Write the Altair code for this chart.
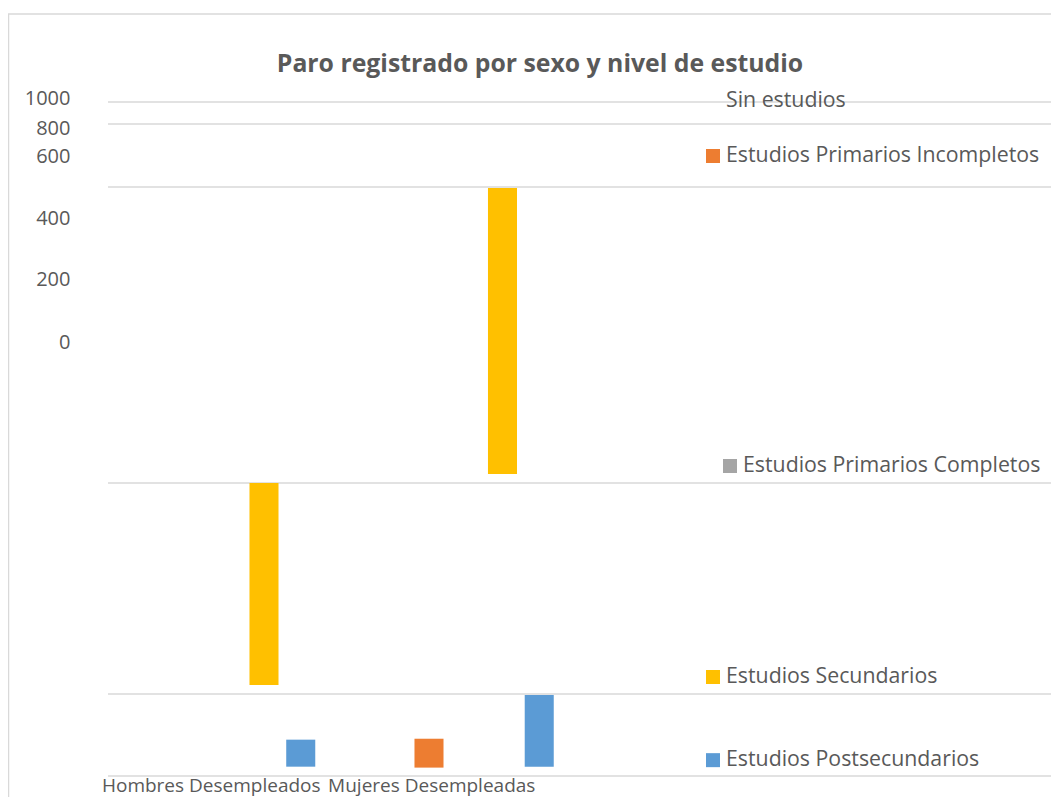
import altair as alt
import pandas as pd

# ---- data ----
groups = ["Hombres Desempleados", "Mujeres Desempleadas"]
series = [
    "Sin estudios",
    "Estudios Primarios Incompletos",
    "Estudios Primarios Completos",
    "Estudios Secundarios",
    "Estudios Postsecundarios",
]
colors = ["#4472C4", "#ED7D31", "#A5A5A5", "#FFC000", "#5B9BD5"]

bar_group = ["Hombres Desempleados", "Hombres Desempleados",
             "Mujeres Desempleadas", "Mujeres Desempleadas", "Mujeres Desempleadas"]
bar_serie = ["Estudios Secundarios", "Estudios Postsecundarios",
             "Estudios Primarios Incompletos", "Estudios Secundarios", "Estudios Postsecundarios"]
bar_low = [97, 10, 9, 308, 10]
bar_high = [299, 39, 40, 594, 87]

grid_levels = [680, 658, 595, 299, 88, 0]

ytick_pos = [684, 654, 626, 564, 503, 440]
ytick_text = ["1000", "800", "600", "400", "200", "0"]

# legend entries (as they sit in the picture)
legend_level = [681, 626, 316, 105, 17]
legend_has_swatch = [False, True, True, True, True]
legend_indent = [0, 0, 17, 0, 0]

# ---- layout ----
W, H = 943, 679
GRAY_TXT = "#595959"
GRID = "#d9d9d9"
FONT = "Open Sans"

bar_df = pd.DataFrame({"grupo": bar_group, "serie": bar_serie, "low": bar_low, "high": bar_high})
grid_df = pd.DataFrame({"level": grid_levels})
leg_df = pd.DataFrame({
    "serie": series,
    "level": legend_level,
    "swatch": legend_has_swatch,
    "sx": [605 + d for d in legend_indent],
    "tx": [618 + d for d in legend_indent],
})
sw_df = leg_df[leg_df["swatch"]]

label_expr = ""
for p, t in zip(ytick_pos, ytick_text):
    label_expr += f"datum.value == {p} ? '{t}' : "
label_expr += "''"

# piecewise scale: the lowest band is drawn a little tighter so the
# category labels stay inside the page
y_scale = alt.Scale(domain=[0, 88, 685], range=[H, 597, 0], nice=False, zero=False)
y_axis = alt.Axis(values=ytick_pos, labelExpr=label_expr, title=None, grid=False,
                  ticks=False, tickSize=0, domain=False, labelPadding=38,
                  labelFontSize=20, labelColor=GRAY_TXT, labelFont=FONT)
color_scale = alt.Scale(domain=series, range=colors)
lx_scale = alt.Scale(domain=[0, W], nice=False, zero=False)

one = pd.DataFrame({"k": [0]})
border_left = alt.Chart(one).mark_rule(color=GRID, strokeWidth=1.5).encode(
    x=alt.value(-99.5), y=alt.value(-83), y2=alt.value(720)
)
border_top = alt.Chart(one).mark_rule(color=GRID, strokeWidth=1.5).encode(
    x=alt.value(-100), x2=alt.value(W), y=alt.value(-83)
)

grid = alt.Chart(grid_df).mark_rule(color=GRID, strokeWidth=1.5).encode(
    y=alt.Y("level:Q", scale=y_scale, axis=y_axis)
)

bars = alt.Chart(bar_df).mark_bar().encode(
    x=alt.X("grupo:N",
            scale=alt.Scale(domain=groups, paddingInner=0, paddingOuter=0.977, align=0),
            axis=alt.Axis(title=None, domain=False, ticks=False, labelPadding=0,
                          labelFontSize=19, labelColor=GRAY_TXT, labelFont=FONT,
                          labelAngle=0, labelLimit=500,
                          labelOffset={"condition": {"test": "datum.value == 'Hombres Desempleados'", "value": -16},
                                       "value": -34})),
    xOffset=alt.XOffset("serie:N", scale=alt.Scale(domain=series, paddingInner=0.21, paddingOuter=0.85)),
    y=alt.Y("low:Q", scale=y_scale, axis=y_axis),
    y2="high:Q",
    color=alt.Color("serie:N", scale=color_scale, legend=None),
)

swatches = alt.Chart(sw_df).mark_square(size=196, opacity=1).encode(
    x=alt.X("sx:Q", scale=lx_scale, axis=None),
    y=alt.Y("level:Q", scale=y_scale, axis=y_axis),
    color=alt.Color("serie:N", scale=color_scale, legend=None),
)

leg_text = alt.Chart(leg_df).mark_text(align="left", baseline="middle", fontSize=21.3,
                                       font=FONT, color=GRAY_TXT).encode(
    x=alt.X("tx:Q", scale=lx_scale, axis=None),
    y=alt.Y("level:Q", scale=y_scale, axis=y_axis),
    text="serie:N",
)

chart = alt.layer(border_left, border_top, grid, bars, swatches, leg_text).resolve_scale(
    x="independent"
).properties(
    width=W,
    height=H,
    autosize=alt.AutoSizeParams(type="none"),
    padding={"left": 100, "top": 89, "right": 0, "bottom": 21},
    title=alt.TitleParams(
        "Paro registrado por sexo y nivel de estudio",
        font=FONT, fontSize=24.8, fontWeight="bold", color=GRAY_TXT,
        anchor="middle", frame="group", dx=-39.5, offset=-63.5,
    ),
).configure(background="white").configure_view(stroke=None)

chart.save("out.html", embed_options={"renderer": "svg", "actions": False})
